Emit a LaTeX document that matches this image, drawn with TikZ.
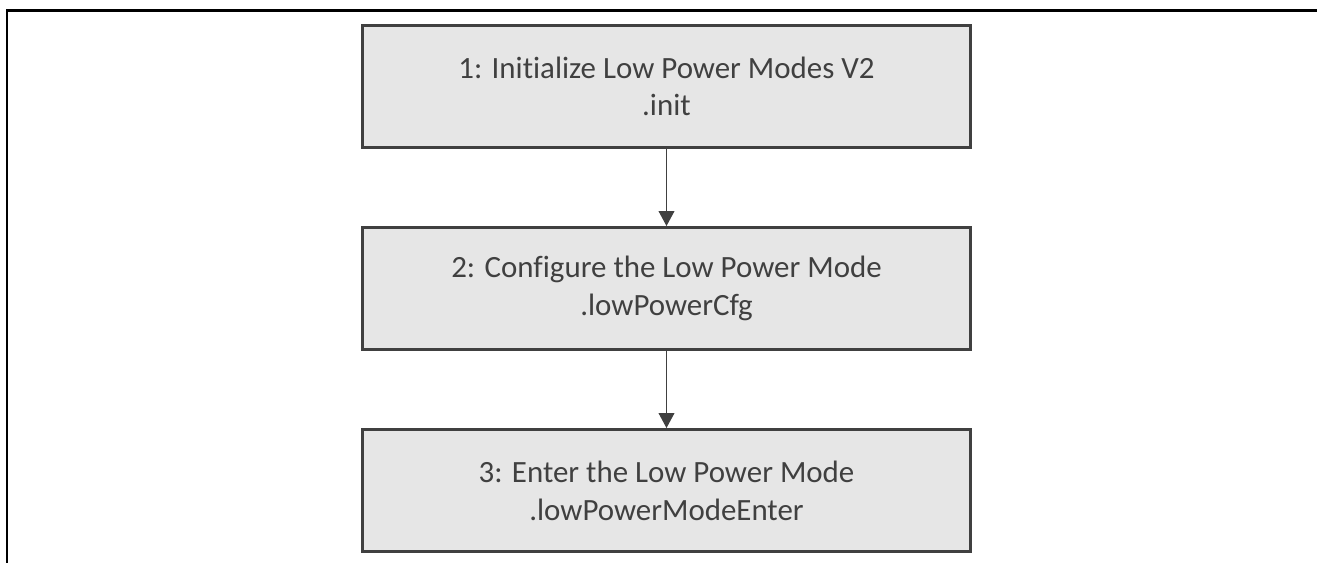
\documentclass[tikz,border=0pt]{standalone}
\usepackage{fontspec}
\setmainfont[Ligatures=NoCommon]{Carlito}
\usetikzlibrary{arrows.meta}
\definecolor{boxgray}{HTML}{E6E6E6}
\definecolor{edgegray}{HTML}{404040}
\tikzset{
    stepbox/.style={draw=edgegray,fill=boxgray,line width=1.7pt,minimum width=12.16cm,
        minimum height=2.44cm,align=center,text=edgegray,font=\fontsize{17.6}{21.5}\selectfont},
    flow/.style={draw=edgegray,line width=0.6pt,-{Triangle[width=9pt,length=8.5pt]}}
}
\begin{document}
\begin{tikzpicture}[x=0.02cm,y=-0.02cm]
        \useasboundingbox (0,0) rectangle (1317,563);
        \draw[line width=1.7pt] (1317,11) -- (7,11) -- (7,563);
        \node[stepbox] (init) at (666.5,86.5) {1: Initialize Low Power Modes V2\\.init};
        \node[stepbox] (cfg) at (666.5,288.5) {2: Configure the Low Power Mode\\.lowPowerCfg};
        \node[stepbox] (enter) at (666.5,490.5) {3: Enter the Low Power Mode\\.lowPowerModeEnter};
        \draw[flow] (init) -- (cfg);
        \draw[flow] (cfg) -- (enter);
    \end{tikzpicture}
\end{document}
